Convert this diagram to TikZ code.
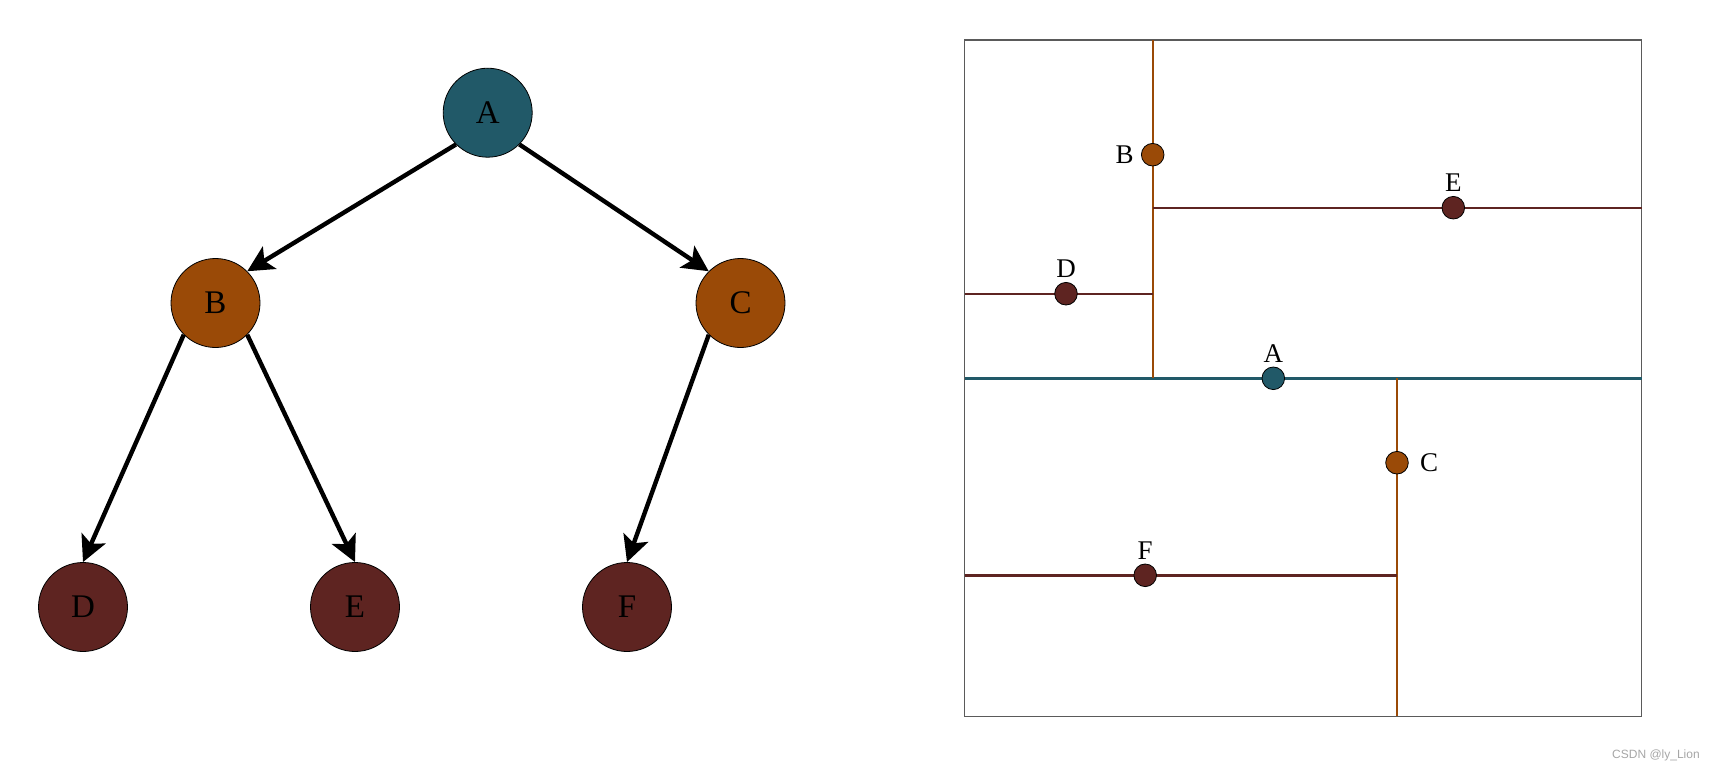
\documentclass[tikz,border=0pt]{standalone}
\usepackage{fontspec}
\setmainfont{Liberation Serif}
\newfontfamily\marksans{Liberation Sans}
\usetikzlibrary{arrows.meta,positioning}
\definecolor{rootc}{HTML}{215968}
\definecolor{midc}{HTML}{9A4A07}
\definecolor{leafc}{HTML}{5E2421}
\definecolor{frame}{HTML}{5A5A5A}

\begin{document}
\begin{tikzpicture}[x=0.5pt,y=-0.5pt,font=\fontsize{13.5}{15}\selectfont,
  >={Stealth[length=13pt,width=13pt,inset=3pt]},
  treenode/.style={circle,draw=black,line width=0.4pt,minimum size=44.5pt,inner sep=0pt,
    font=\fontsize{16.5}{18}\selectfont},
  kdpt/.style={circle,draw=black,line width=0.4pt,minimum size=11.3pt,inner sep=0pt},
  treeedge/.style={->,line width=2.2pt},
  cut/.style={line width=1.2pt},
  every label/.style={inner sep=1pt}]
  \useasboundingbox (0,0) rectangle (1715,771);
  % left: the tree
  \node[treenode,fill=rootc] (A) at (487.7,112.7) {A};
  \node[treenode,fill=midc]  (B) at (215.5,303) {B};
  \node[treenode,fill=midc]  (C) at (740.5,303) {C};
  \node[treenode,fill=leafc] (D) at (83,607) {D};
  \node[treenode,fill=leafc] (E) at (355,607) {E};
  \node[treenode,fill=leafc] (F) at (627,607) {F};
  \foreach \a/\b in {A.south west/B.north east,A.south east/C.north west,
                     B.south west/D.north,B.south east/E.north,C.south west/F.north}
    \draw[treeedge] (\a) -- (\b);
  % right: the split plane
  \draw[draw=frame,line width=0.7pt] (964.5,40) rectangle (1641.7,716.4);
  \draw[cut,draw=rootc] (964.5,378.3) -- (1641.7,378.3);
  \draw[cut,draw=midc]  (1152.7,40) -- (1152.7,378.3);
  \draw[cut,draw=midc]  (1397,378.3) -- (1397,716.4);
  \draw[cut,draw=leafc] (964.5,293.7) -- (1152.7,293.7);
  \draw[cut,draw=leafc] (1152.7,208) -- (1641.7,208);
  \draw[cut,draw=leafc] (964.5,575.3) -- (1397,575.3);
  \node[kdpt,fill=rootc,label={[label distance=1pt]above:A}] (pA) at (1273.3,378.3) {};
  \node[kdpt,fill=midc,label={[label distance=2.5pt]left:B}] (pB) at (1152.7,154.7) {};
  \node[kdpt,fill=midc,label={[label distance=4.5pt]right:C}] (pC) at (1397,462.7) {};
  \node[kdpt,fill=leafc,label={[label distance=1pt]above:D}] (pD) at (1066,293.7) {};
  \node[kdpt,fill=leafc,label={[label distance=1pt]above:E}] (pE) at (1453.3,207.7) {};
  \node[kdpt,fill=leafc,label={[label distance=1pt]above:F}] (pF) at (1145.2,575.3) {};
  \node[font=\marksans\fontsize{6}{7}\selectfont,text=gray!70] (mark) at (1656,755) {CSDN @ly\_Lion};
\end{tikzpicture}
\end{document}
